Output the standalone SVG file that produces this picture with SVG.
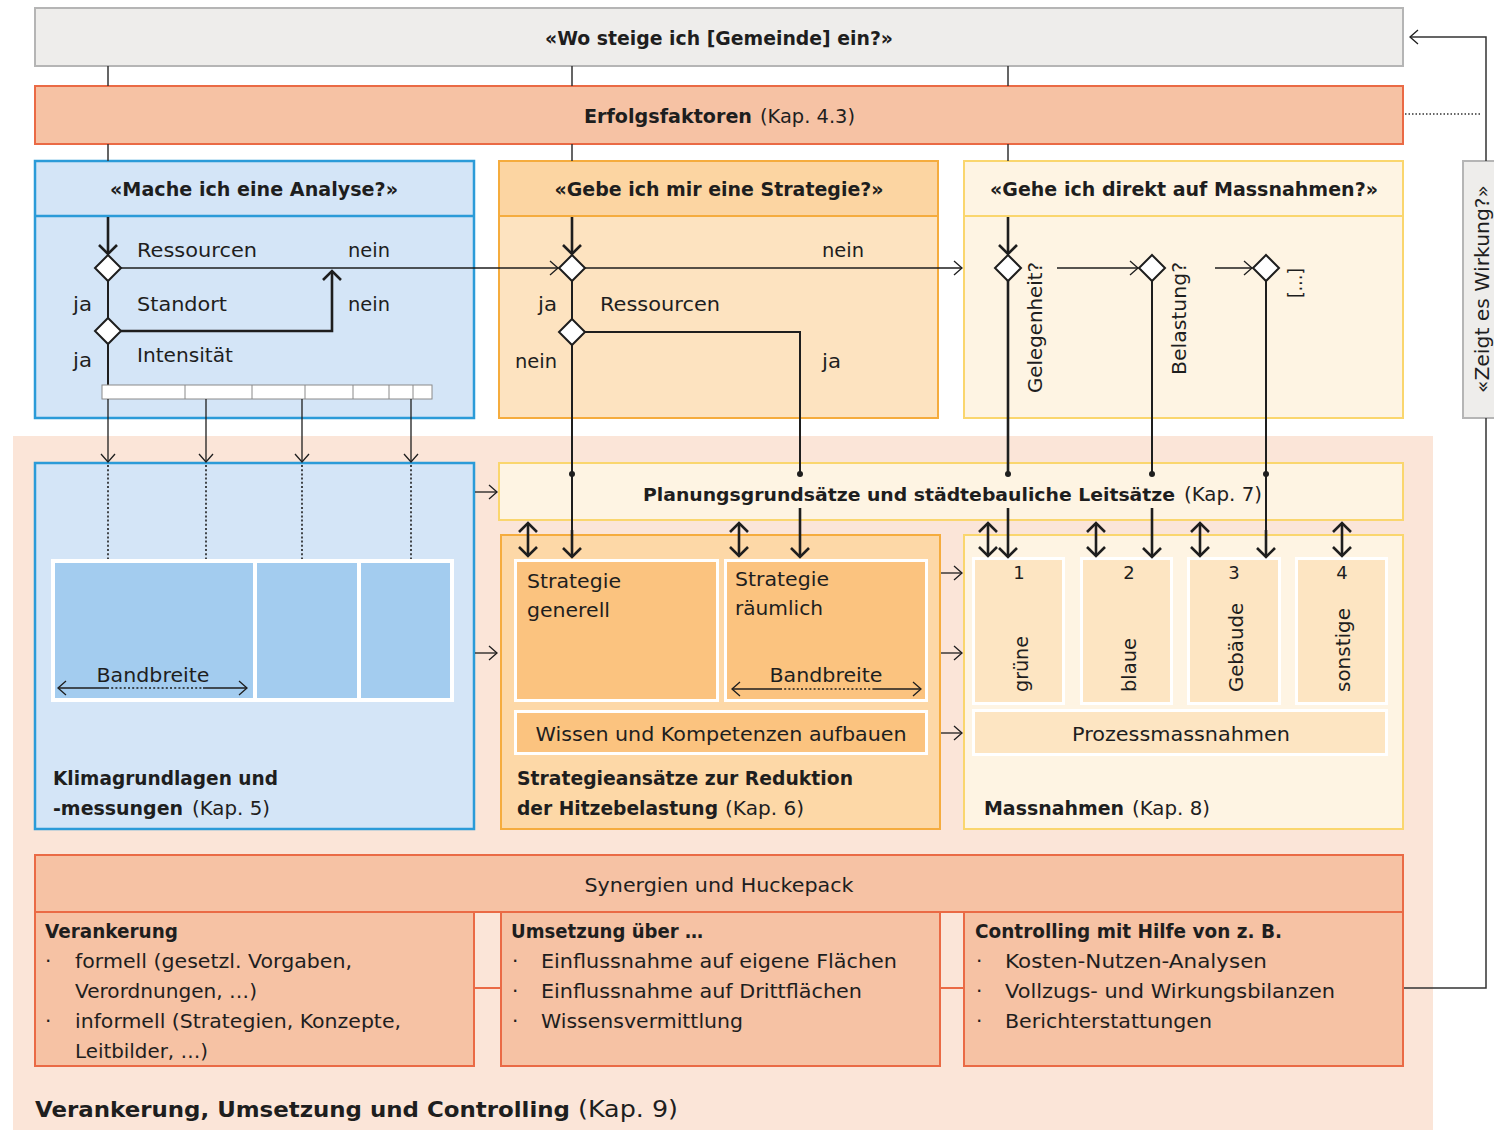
<svg xmlns="http://www.w3.org/2000/svg" width="1494" height="1134" viewBox="0 0 1494 1134">
<style>
text{font-family:"DejaVu Sans","Liberation Sans",sans-serif;font-size:20px;fill:#1e1e1e}
.b{font-weight:bold}
.c{text-anchor:middle}
text.f17{font-size:17.4px}
text.f18{font-size:18px}
text.f21{font-size:21px}
text.f23{font-size:23px}
.ln{fill:none;stroke:#1e1e1e;stroke-width:2}
.bo{stroke-width:2.6}
.th{stroke-width:1.3}
.dt{stroke-dasharray:2 2.2;stroke-width:1.6}
.gray{fill:#eeedeb;stroke:#b5b5b5;stroke-width:2}
.sal{fill:#f6c2a4;stroke:#ea6a45;stroke-width:2}
.blue{fill:#d4e5f7;stroke:#2b9bd8;stroke-width:2.5}
.bcell{fill:#a3ccef}
.or{fill:#fde3c0;stroke:#f5ac3e;stroke-width:2}
.orh{fill:#fcd5a2;stroke:#f5ac3e;stroke-width:2}
.or2{fill:#fdd8a7;stroke:#f5ac3e;stroke-width:2}
.ocell{fill:#fbc37f}
.yel{fill:#fef4e3;stroke:#fad66e;stroke-width:2}
.ycell{fill:#fde5c2}
.dia{fill:#fff;stroke:#1e1e1e;stroke-width:2}
.wb{fill:#fff}
</style>
<defs>
<marker id="ab" markerUnits="userSpaceOnUse" markerWidth="24" markerHeight="24" refX="12" refY="12" orient="auto-start-reverse"><path d="M3,3 L12,12 L3,21" fill="none" stroke="#1e1e1e" stroke-width="2.6"/></marker>
<marker id="at" markerUnits="userSpaceOnUse" markerWidth="20" markerHeight="20" refX="10" refY="10" orient="auto-start-reverse"><path d="M2,3 L10,10 L2,17" fill="none" stroke="#1e1e1e" stroke-width="1.3"/></marker>
</defs>

<rect x="13" y="436" width="1420" height="694" fill="#fbe5d8"/>

<g id="top">
<rect class="gray" x="35" y="8" width="1368" height="58"/>
<text class="b c" x="719" y="45" textLength="348" lengthAdjust="spacingAndGlyphs">«Wo steige ich [Gemeinde] ein?»</text>
</g>
<g id="erfolg">
<rect class="sal" x="35" y="86" width="1368" height="58"/>
<text class="b" x="584" y="123" textLength="168" lengthAdjust="spacingAndGlyphs">Erfolgsfaktoren</text>
<text x="760" y="123" textLength="95" lengthAdjust="spacingAndGlyphs">(Kap. 4.3)</text>
</g>

<g id="q-analyse">
<rect class="blue" x="35" y="161" width="439" height="257"/>
<line x1="35" y1="216" x2="474" y2="216" stroke="#2b9bd8" stroke-width="2.5"/>
<text class="b c" x="254" y="196" textLength="288" lengthAdjust="spacingAndGlyphs">«Mache ich eine Analyse?»</text>
<text x="137" y="257" textLength="120" lengthAdjust="spacingAndGlyphs">Ressourcen</text>
<text x="348" y="257" textLength="42" lengthAdjust="spacingAndGlyphs">nein</text>
<text x="137" y="311" textLength="90" lengthAdjust="spacingAndGlyphs">Standort</text>
<text x="348" y="311" textLength="42" lengthAdjust="spacingAndGlyphs">nein</text>
<text x="73" y="311" textLength="19" lengthAdjust="spacingAndGlyphs">ja</text>
<text x="137" y="362" textLength="96" lengthAdjust="spacingAndGlyphs">Intensität</text>
<text x="73" y="367" textLength="19" lengthAdjust="spacingAndGlyphs">ja</text>
</g>

<g id="q-strategie">
<rect class="or" x="499" y="161" width="439" height="257"/>
<rect class="orh" x="499" y="161" width="439" height="55"/>
<text class="b c" x="719" y="196" textLength="329" lengthAdjust="spacingAndGlyphs">«Gebe ich mir eine Strategie?»</text>
<text x="822" y="257" textLength="42" lengthAdjust="spacingAndGlyphs">nein</text>
<text x="538" y="311" textLength="19" lengthAdjust="spacingAndGlyphs">ja</text>
<text x="600" y="311" textLength="120" lengthAdjust="spacingAndGlyphs">Ressourcen</text>
<text x="515" y="368" textLength="42" lengthAdjust="spacingAndGlyphs">nein</text>
<text x="822" y="368" textLength="19" lengthAdjust="spacingAndGlyphs">ja</text>
</g>

<g id="q-massnahmen">
<rect class="yel" x="964" y="161" width="439" height="257"/>
<line x1="964" y1="216" x2="1403" y2="216" stroke="#fad66e" stroke-width="2"/>
<text class="b c" x="1184" y="196" textLength="388" lengthAdjust="spacingAndGlyphs">«Gehe ich direkt auf Massnahmen?»</text>
<text transform="translate(1042,393) rotate(-90)" textLength="131" lengthAdjust="spacingAndGlyphs">Gelegenheit?</text>
<text transform="translate(1186,375) rotate(-90)" textLength="113" lengthAdjust="spacingAndGlyphs">Belastung?</text>
<text transform="translate(1302,298) rotate(-90)" textLength="30" lengthAdjust="spacingAndGlyphs">[…]</text>
</g>

<g id="q-wirkung">
<rect class="gray" x="1463" y="161" width="40" height="257"/>
<text transform="translate(1489,393) rotate(-90)" textLength="208" lengthAdjust="spacingAndGlyphs">«Zeigt es Wirkung?»</text>
</g>

<g id="klima">
<rect class="blue" x="35" y="463" width="439" height="366"/>
<rect class="wb" x="51" y="559" width="403" height="143"/>
<rect class="bcell" x="55" y="563" width="198" height="135"/>
<rect class="bcell" x="257" y="563" width="100" height="135"/>
<rect class="bcell" x="361" y="563" width="89" height="135"/>
<text class="c" x="153" y="682" textLength="113" lengthAdjust="spacingAndGlyphs">Bandbreite</text>
<text class="b" x="53" y="785" textLength="225" lengthAdjust="spacingAndGlyphs">Klimagrundlagen und</text>
<text class="b" x="53" y="815" textLength="130" lengthAdjust="spacingAndGlyphs">-messungen</text>
<text x="192" y="815" textLength="78" lengthAdjust="spacingAndGlyphs">(Kap. 5)</text>
</g>

<g id="planung">
<rect class="yel" x="499" y="463" width="904" height="57"/>
<text class="b f17" x="643" y="501" textLength="532" lengthAdjust="spacingAndGlyphs">Planungsgrundsätze und städtebauliche Leitsätze</text>
<text x="1184" y="501" textLength="78" lengthAdjust="spacingAndGlyphs">(Kap. 7)</text>
</g>

<g id="strategie">
<rect class="or2" x="501" y="535" width="439" height="294"/>
<rect class="wb" x="514" y="559" width="205" height="143"/>
<rect class="ocell" x="517" y="562" width="199" height="137"/>
<rect class="wb" x="724" y="559" width="204" height="143"/>
<rect class="ocell" x="727" y="562" width="198" height="137"/>
<rect class="wb" x="514" y="710" width="414" height="45"/>
<rect class="ocell" x="517" y="713" width="408" height="39"/>
<text x="527" y="588" textLength="94" lengthAdjust="spacingAndGlyphs">Strategie</text>
<text x="527" y="617" textLength="83" lengthAdjust="spacingAndGlyphs">generell</text>
<text x="735" y="586" textLength="94" lengthAdjust="spacingAndGlyphs">Strategie</text>
<text x="735" y="615" textLength="88" lengthAdjust="spacingAndGlyphs">räumlich</text>
<text class="c" x="826" y="682" textLength="113" lengthAdjust="spacingAndGlyphs">Bandbreite</text>
<text class="c" x="721" y="741" textLength="371" lengthAdjust="spacingAndGlyphs">Wissen und Kompetenzen aufbauen</text>
<text class="b" x="517" y="785" textLength="336" lengthAdjust="spacingAndGlyphs">Strategieansätze zur Reduktion</text>
<text class="b" x="517" y="815" textLength="201" lengthAdjust="spacingAndGlyphs">der Hitzebelastung</text>
<text x="725" y="815" textLength="79" lengthAdjust="spacingAndGlyphs">(Kap. 6)</text>
</g>

<g id="massnahmen">
<rect class="yel" x="964" y="535" width="439" height="294"/>
<rect class="wb" x="972" y="557" width="93" height="148"/>
<rect class="ycell" x="975" y="560" width="87" height="142"/>
<rect class="wb" x="1080" y="557" width="93" height="148"/>
<rect class="ycell" x="1083" y="560" width="87" height="142"/>
<rect class="wb" x="1187" y="557" width="94" height="148"/>
<rect class="ycell" x="1190" y="560" width="88" height="142"/>
<rect class="wb" x="1295" y="557" width="93" height="148"/>
<rect class="ycell" x="1298" y="560" width="87" height="142"/>
<rect class="wb" x="972" y="709" width="416" height="47"/>
<rect class="ycell" x="975" y="712" width="410" height="41"/>
<text class="c f18" x="1019" y="579">1</text>
<text class="c f18" x="1129" y="579">2</text>
<text class="c f18" x="1234" y="579">3</text>
<text class="c f18" x="1342" y="579">4</text>
<text transform="translate(1028,692) rotate(-90)" textLength="56" lengthAdjust="spacingAndGlyphs">grüne</text>
<text transform="translate(1136,692) rotate(-90)" textLength="54" lengthAdjust="spacingAndGlyphs">blaue</text>
<text transform="translate(1243,692) rotate(-90)" textLength="89" lengthAdjust="spacingAndGlyphs">Gebäude</text>
<text transform="translate(1350,692) rotate(-90)" textLength="84" lengthAdjust="spacingAndGlyphs">sonstige</text>
<text class="c" x="1181" y="741" textLength="218" lengthAdjust="spacingAndGlyphs">Prozessmassnahmen</text>
<text class="b" x="984" y="815" textLength="140" lengthAdjust="spacingAndGlyphs">Massnahmen</text>
<text x="1132" y="815" textLength="78" lengthAdjust="spacingAndGlyphs">(Kap. 8)</text>
</g>

<g id="verankerung">
<rect class="sal" x="35" y="912" width="439" height="154"/>
<text class="b" x="45" y="938" textLength="133" lengthAdjust="spacingAndGlyphs">Verankerung</text>
<text x="45" y="968">·</text>
<text x="75" y="968" textLength="277" lengthAdjust="spacingAndGlyphs">formell (gesetzl. Vorgaben,</text>
<text x="75" y="998" textLength="182" lengthAdjust="spacingAndGlyphs">Verordnungen, …)</text>
<text x="45" y="1028">·</text>
<text x="75" y="1028" textLength="326" lengthAdjust="spacingAndGlyphs">informell (Strategien, Konzepte,</text>
<text x="75" y="1058" textLength="133" lengthAdjust="spacingAndGlyphs">Leitbilder, …)</text>
</g>
<g id="umsetzung">
<rect class="sal" x="501" y="912" width="439" height="154"/>
<text class="b" x="511" y="938" textLength="192" lengthAdjust="spacingAndGlyphs">Umsetzung über …</text>
<text x="512" y="968">·</text>
<text x="541" y="968" textLength="356" lengthAdjust="spacingAndGlyphs">Einflussnahme auf eigene Flächen</text>
<text x="512" y="998">·</text>
<text x="541" y="998" textLength="321" lengthAdjust="spacingAndGlyphs">Einflussnahme auf Drittflächen</text>
<text x="512" y="1028">·</text>
<text x="541" y="1028" textLength="202" lengthAdjust="spacingAndGlyphs">Wissensvermittlung</text>
</g>
<g id="controlling">
<rect class="sal" x="964" y="912" width="439" height="154"/>
<text class="b" x="975" y="938" textLength="307" lengthAdjust="spacingAndGlyphs">Controlling mit Hilfe von z. B.</text>
<text x="976" y="968">·</text>
<text x="1005" y="968" textLength="262" lengthAdjust="spacingAndGlyphs">Kosten-Nutzen-Analysen</text>
<text x="976" y="998">·</text>
<text x="1005" y="998" textLength="330" lengthAdjust="spacingAndGlyphs">Vollzugs- und Wirkungsbilanzen</text>
<text x="976" y="1028">·</text>
<text x="1005" y="1028" textLength="207" lengthAdjust="spacingAndGlyphs">Berichterstattungen</text>
</g>
<g id="synergien">
<rect class="sal" x="35" y="855" width="1368" height="57"/>
<text class="c" x="719" y="892" textLength="269" lengthAdjust="spacingAndGlyphs">Synergien und Huckepack</text>
</g>
<g id="kap9">
<text class="b f21" x="35" y="1117" textLength="535" lengthAdjust="spacingAndGlyphs">Verankerung, Umsetzung und Controlling</text>
<text class="f23" x="578" y="1117" textLength="100" lengthAdjust="spacingAndGlyphs">(Kap. 9)</text>
</g>

<g id="connectors">
<g stroke="#333" stroke-width="1.5" fill="none">
<path d="M108,66V86M572,66V86M1008,66V86M108,144V161M572,144V161M1008,144V161"/>
<path d="M1486,161V37H1410" marker-end="url(#at)"/>
<path d="M1486,418V988H1404"/>
</g>
<path d="M1405,114H1482" fill="none" stroke="#333" stroke-width="1.5" stroke-dasharray="1.5 2"/>
<path d="M474,988H501M940,988H964" stroke="#ea6a45" stroke-width="2"/>

<path class="ln bo" d="M108,217V254" marker-end="url(#ab)"/>
<path class="ln" d="M108,281V318M108,344V385"/>
<path class="ln th" d="M121,268H558" marker-end="url(#at)"/>
<path class="ln bo" d="M121,331H332V271" marker-end="url(#ab)"/>
<rect x="102" y="385" width="330" height="14" fill="#fff" stroke="#8a8a8a" stroke-width="1"/>
<path d="M185,385V399M252,385V399M305,385V399M353,385V399M389,385V399M413,385V399" stroke="#8a8a8a" stroke-width="1"/>
<path class="ln th" d="M108,399V462" marker-end="url(#at)"/>
<path class="ln th" d="M206,399V462" marker-end="url(#at)"/>
<path class="ln th" d="M302,399V462" marker-end="url(#at)"/>
<path class="ln th" d="M411,399V462" marker-end="url(#at)"/>
<path class="ln dt" d="M108,465V559M206,465V559M302,465V559M411,465V559"/>
<polygon class="dia" points="108,255 121,268 108,281 95,268"/>
<polygon class="dia" points="108,318 121,331 108,344 95,331"/>

<path class="ln bo" d="M572,217V254" marker-end="url(#ab)"/>
<path class="ln" d="M572,281V319"/>
<path class="ln th" d="M585,268H962" marker-end="url(#at)"/>
<path class="ln" d="M585,332H800V474"/>
<path class="ln bo" d="M800,508V557" marker-end="url(#ab)"/>
<path class="ln" d="M572,345V540"/>
<path class="ln bo" d="M572,530V557" marker-end="url(#ab)"/>
<polygon class="dia" points="572,255 585,268 572,281 559,268"/>
<polygon class="dia" points="572,319 585,332 572,345 559,332"/>

<path class="ln bo" d="M1008,217V254" marker-end="url(#ab)"/>
<path class="ln bo" d="M1008,281V476"/>
<path class="ln bo" d="M1008,508V557" marker-end="url(#ab)"/>
<path class="ln th" d="M1057,268H1138" marker-end="url(#at)"/>
<path class="ln" d="M1152,281V476"/>
<path class="ln bo" d="M1152,508V557" marker-end="url(#ab)"/>
<path class="ln th" d="M1215,268H1252" marker-end="url(#at)"/>
<path class="ln" d="M1266,281V540"/>
<path class="ln bo" d="M1266,530V557" marker-end="url(#ab)"/>
<polygon class="dia" points="1008,255 1021,268 1008,281 995,268"/>
<polygon class="dia" points="1152,255 1165,268 1152,281 1139,268"/>
<polygon class="dia" points="1266,255 1279,268 1266,281 1253,268"/>

<g fill="#1e1e1e">
<circle cx="572" cy="474" r="3"/><circle cx="800" cy="474" r="3"/>
<circle cx="1008" cy="474" r="3"/><circle cx="1152" cy="474" r="3"/><circle cx="1266" cy="474" r="3"/>
</g>

<path class="ln bo" d="M528,523V556" marker-start="url(#ab)" marker-end="url(#ab)"/>
<path class="ln bo" d="M739,523V556" marker-start="url(#ab)" marker-end="url(#ab)"/>
<path class="ln bo" d="M988,523V556" marker-start="url(#ab)" marker-end="url(#ab)"/>
<path class="ln bo" d="M1096,523V556" marker-start="url(#ab)" marker-end="url(#ab)"/>
<path class="ln bo" d="M1200,523V556" marker-start="url(#ab)" marker-end="url(#ab)"/>
<path class="ln bo" d="M1342,523V556" marker-start="url(#ab)" marker-end="url(#ab)"/>

<path class="ln th" d="M475,492H497" marker-end="url(#at)"/>
<path class="ln th" d="M475,653H497" marker-end="url(#at)"/>
<path class="ln th" d="M941,573H962" marker-end="url(#at)"/>
<path class="ln th" d="M941,653H962" marker-end="url(#at)"/>
<path class="ln th" d="M941,733H962" marker-end="url(#at)"/>

<path class="ln th" d="M107,688H58" marker-end="url(#at)"/>
<path class="ln th" d="M203,688H247" marker-end="url(#at)"/>
<path class="ln dt" d="M107,688H203" stroke-width="1.3"/>
<path class="ln th" d="M780,689H732" marker-end="url(#at)"/>
<path class="ln th" d="M874,689H921" marker-end="url(#at)"/>
<path class="ln dt" d="M780,689H874" stroke-width="1.3"/>
</g>
</svg>
